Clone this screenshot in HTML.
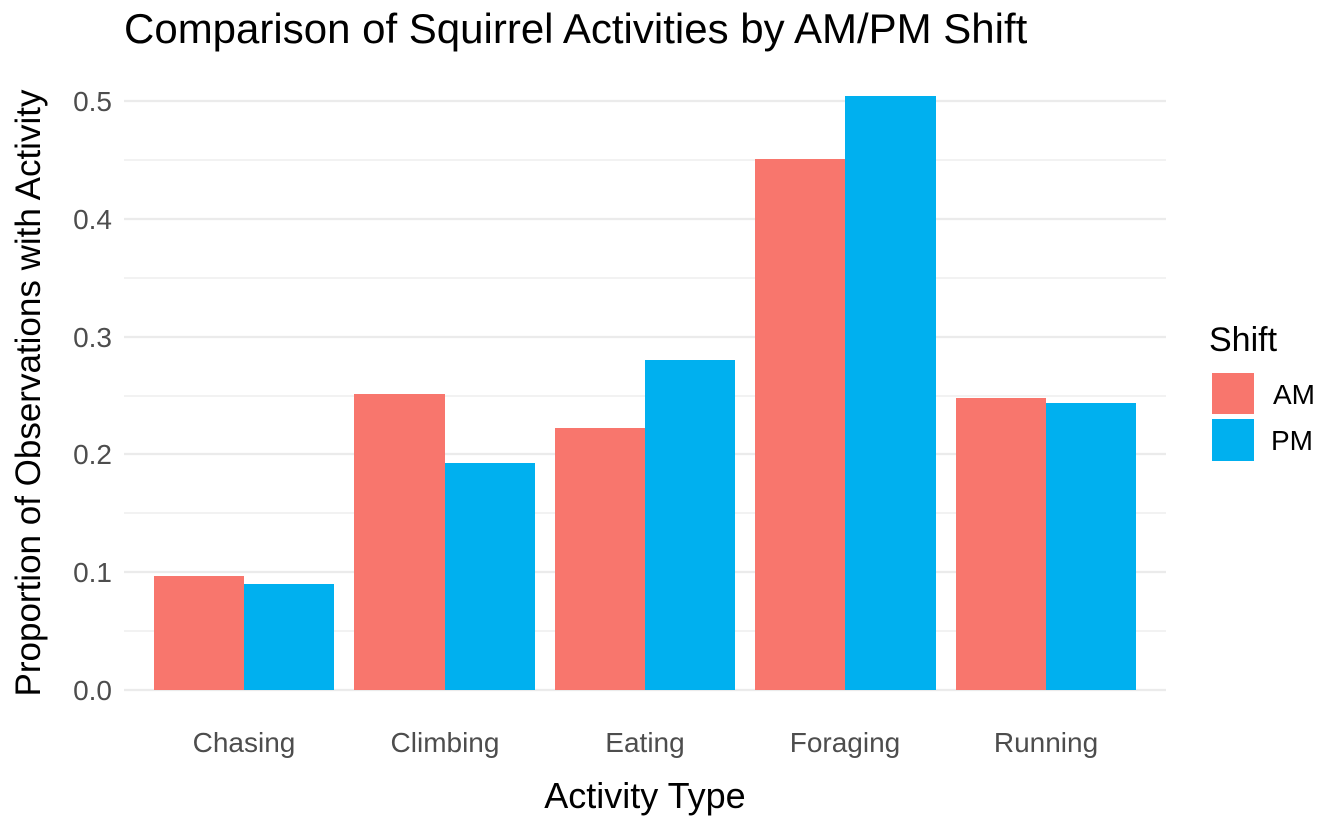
<!DOCTYPE html>
<html><head><meta charset="utf-8"><style>
html,body{margin:0;padding:0;background:#fff;}
svg{display:block;font-family:"Liberation Sans",Arial,sans-serif;}
</style></head><body>
<svg width="1344" height="830" viewBox="0 0 1344 830" xmlns="http://www.w3.org/2000/svg">
<rect width="1344" height="830" fill="#fff"/>
<g stroke="#ebebeb" stroke-width="1.2">
<line x1="124" x2="1166" y1="631" y2="631"/>
<line x1="124" x2="1166" y1="513" y2="513"/>
<line x1="124" x2="1166" y1="396" y2="396"/>
<line x1="124" x2="1166" y1="278" y2="278"/>
<line x1="124" x2="1166" y1="160" y2="160"/>
</g>
<g stroke="#ebebeb" stroke-width="2.2">
<line x1="124" x2="1166" y1="690" y2="690"/>
<line x1="124" x2="1166" y1="572" y2="572"/>
<line x1="124" x2="1166" y1="454" y2="454"/>
<line x1="124" x2="1166" y1="337" y2="337"/>
<line x1="124" x2="1166" y1="219" y2="219"/>
<line x1="124" x2="1166" y1="101" y2="101"/>
</g>
<g fill="#F8766D">
<rect x="154" y="576" width="90" height="114"/>
<rect x="354" y="394" width="91" height="296"/>
<rect x="555" y="428" width="90" height="262"/>
<rect x="755" y="159" width="90" height="531"/>
<rect x="956" y="398" width="90" height="292"/>
</g>
<g fill="#00B0EF">
<rect x="244" y="584" width="90" height="106"/>
<rect x="445" y="463" width="90" height="227"/>
<rect x="645" y="360" width="90" height="330"/>
<rect x="845" y="96" width="91" height="594"/>
<rect x="1046" y="403" width="90" height="287"/>
</g>
<g fill="#4d4d4d" font-size="28" text-anchor="end">
<text x="112" y="700">0.0</text>
<text x="112" y="582">0.1</text>
<text x="112" y="464">0.2</text>
<text x="112" y="347">0.3</text>
<text x="112" y="229">0.4</text>
<text x="112" y="111">0.5</text>
</g>
<g fill="#4d4d4d" font-size="28" text-anchor="middle">
<text x="244" y="752">Chasing</text>
<text x="445" y="752">Climbing</text>
<text x="645" y="752">Eating</text>
<text x="845" y="752">Foraging</text>
<text x="1046" y="752">Running</text>
</g>
<text x="645" y="808" font-size="36" text-anchor="middle" fill="#000">Activity Type</text>
<text transform="translate(40,393) rotate(-90)" font-size="35" text-anchor="middle" fill="#000">Proportion of Observations with Activity</text>
<text x="124" y="43" font-size="42" fill="#000">Comparison of Squirrel Activities by AM/PM Shift</text>
<text x="1209" y="351" font-size="34" fill="#000">Shift</text>
<rect x="1212" y="373" width="42" height="41" fill="#F8766D"/>
<rect x="1212" y="419" width="42" height="42" fill="#00B0EF"/>
<text x="1273" y="404" font-size="28" fill="#000">AM</text>
<text x="1271" y="450" font-size="28" fill="#000">PM</text>
</svg>
</body></html>
